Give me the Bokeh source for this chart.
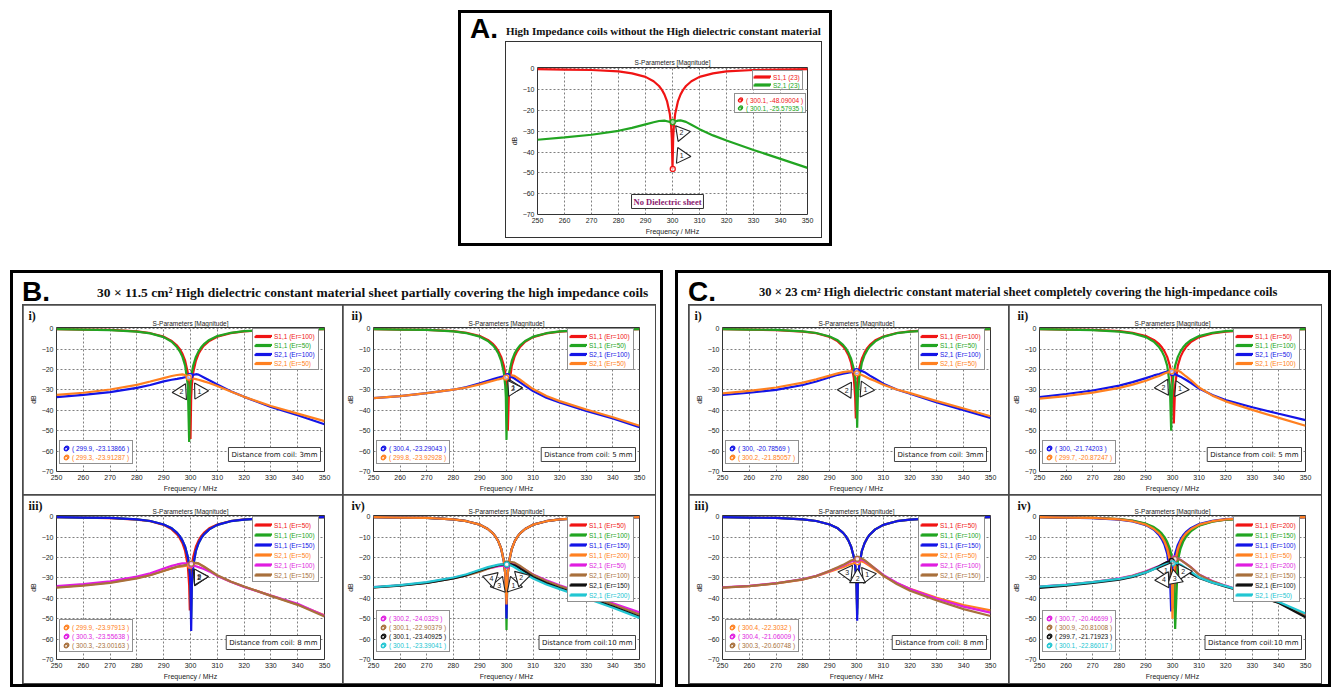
import math
from bokeh.plotting import figure
from bokeh.models import Range1d, FixedTicker, Legend, LegendItem, Label, Div, Spacer, Title
from bokeh.layouts import row, column
from bokeh.embed import file_html
from bokeh.resources import INLINE
from bokeh.core.properties import value

# ---------------- data ----------------
FREQ_S11 = [250, 260, 270, 280, 285, 290, 293, 295, 296, 297, 298, 299, 299.5, 299.75, 300,
            300.25, 300.5, 301, 302, 303, 304, 305, 307, 310, 315, 320, 330, 340, 350]
FREQ_S21 = [250, 260, 270, 280, 285, 290, 293, 295, 297, 298, 299, 300, 301, 302, 303,
            305, 307, 310, 315, 320, 330, 340, 350]
X_TICKS = [250, 260, 270, 280, 290, 300, 310, 320, 330, 340, 350]
Y_TICKS = [-70, -60, -50, -40, -30, -20, -10, 0]

# Panel A
A_S11_23 = [-0.2, -0.4, -0.6, -1.3, -2.2, -3.9, -6.0, -8.3, -10.0, -12.3, -15.7, -21.6, -27.6, -33.6, -48.1, -33.6, -27.6, -21.6, -15.7, -12.3, -10.0, -8.3, -6.0, -3.9, -2.2, -1.3, -0.6, -0.4, -0.2]
A_S21_23 = [-34.1, -33.0, -31.7, -29.8, -28.4, -26.7, -25.7, -25.1, -24.9, -25.2, -25.5, -25.6, -25.3, -24.9, -24.8, -25.5, -26.9, -29.0, -32.0, -34.5, -39.0, -43.3, -47.6]
A_MK_X = [300.1, 300.1]
A_MK_Y = [-48.09004, -25.57935]

# Panel B i (3 mm)
BI_S11_ER100 = [-0.2, -0.4, -0.6, -1.3, -2.2, -3.9, -6.0, -8.3, -10.0, -12.3, -15.7, -21.6, -27.6, -33.6, -54.0, -33.6, -27.6, -21.6, -15.7, -12.3, -10.0, -8.3, -6.0, -3.9, -2.2, -1.3, -0.6, -0.4, -0.2]
BI_S11_ER50 = [-0.2, -0.4, -0.7, -1.4, -2.3, -4.1, -6.4, -9.1, -11.1, -13.8, -18.1, -27.6, -55.5, -33.6, -27.6, -24.1, -21.6, -18.1, -13.8, -11.1, -9.1, -7.6, -5.5, -3.6, -2.0, -1.2, -0.6, -0.4, -0.2]
BI_S21_ER100 = [-33.5, -32.4, -31.1, -29.0, -27.6, -25.8, -25.0, -24.6, -24.1, -23.8, -23.5, -23.1, -22.6, -22.3, -22.5, -23.9, -25.3, -27.3, -30.6, -33.4, -38.4, -42.4, -46.8]
BI_S21_ER50 = [-32.4, -31.4, -29.8, -27.5, -25.9, -24.2, -23.2, -22.7, -22.4, -22.7, -23.7, -24.1, -24.4, -24.7, -25.0, -25.8, -26.6, -28.1, -30.8, -33.4, -37.9, -41.6, -45.3]
BI_MK_X = [299.9, 299.3]
BI_MK_Y = [-23.13866, -23.91287]

# Panel B ii (5 mm)
BII_S11_ER100 = [-0.2, -0.4, -0.6, -1.2, -2.0, -3.6, -5.5, -7.6, -9.1, -11.1, -13.8, -18.1, -21.6, -24.1, -27.6, -33.6, -50.0, -27.6, -18.1, -13.8, -11.1, -9.1, -6.4, -4.1, -2.3, -1.4, -0.7, -0.4, -0.2]
BII_S11_ER50 = [-0.2, -0.4, -0.6, -1.3, -2.2, -3.9, -6.0, -8.3, -10.0, -12.3, -15.7, -21.6, -27.6, -33.6, -54.5, -33.6, -27.6, -21.6, -15.7, -12.3, -10.0, -8.3, -6.0, -3.9, -2.2, -1.3, -0.6, -0.4, -0.2]
BII_S21_ER100 = [-34.0, -33.0, -31.6, -29.9, -28.6, -26.8, -25.5, -24.7, -23.9, -23.6, -23.4, -23.3, -23.3, -23.7, -24.4, -26.2, -28.0, -30.6, -33.8, -36.2, -40.3, -44.0, -48.3]
BII_S21_ER50 = [-34.0, -33.0, -31.6, -29.9, -28.8, -27.3, -26.2, -25.5, -24.8, -24.5, -24.1, -23.7, -23.1, -22.8, -23.1, -24.9, -26.8, -29.6, -33.0, -35.5, -39.6, -43.4, -47.6]
BII_MK_X = [300.4, 299.8]
BII_MK_Y = [-23.29043, -23.92928]

# Panel B iii (8 mm)
BIII_S11_ER50 = [-0.2, -0.4, -0.7, -1.4, -2.2, -4.0, -6.2, -8.7, -10.5, -13.0, -16.8, -24.1, -33.6, -46.0, -33.6, -27.6, -24.1, -19.7, -14.7, -11.7, -9.5, -7.9, -5.7, -3.8, -2.1, -1.3, -0.6, -0.4, -0.2]
BIII_S11_ER100 = [-0.2, -0.4, -0.6, -1.3, -2.1, -3.8, -5.7, -7.9, -9.5, -11.7, -14.7, -19.7, -24.1, -27.6, -33.6, -50.0, -33.6, -24.1, -16.8, -13.0, -10.5, -8.7, -6.2, -4.0, -2.2, -1.4, -0.7, -0.4, -0.2]
BIII_S11_ER150 = [-0.2, -0.4, -0.6, -1.3, -2.1, -3.8, -5.7, -7.9, -9.5, -11.7, -14.7, -19.7, -24.1, -27.6, -33.6, -56.0, -33.6, -24.1, -16.8, -13.0, -10.5, -8.7, -6.2, -4.0, -2.2, -1.4, -0.7, -0.4, -0.2]
BIII_S21_ER50 = [-34.5, -33.5, -32.2, -30.0, -28.5, -26.5, -25.3, -24.6, -24.3, -24.1, -24.0, -23.9, -23.2, -22.8, -23.0, -24.6, -26.3, -28.9, -31.9, -34.3, -38.7, -43.0, -48.3]
BIII_S21_ER100 = [-34.0, -33.0, -31.7, -29.3, -27.7, -25.4, -24.1, -23.4, -22.9, -22.8, -23.0, -23.4, -23.9, -24.3, -24.7, -25.6, -26.8, -29.0, -31.9, -34.4, -38.7, -42.7, -48.5]
BIII_S21_ER150 = [-34.8, -33.8, -32.4, -30.2, -28.7, -26.6, -25.3, -24.5, -24.0, -23.7, -23.4, -23.1, -22.7, -22.6, -22.9, -24.4, -26.1, -28.7, -31.8, -34.2, -38.8, -43.2, -48.9]
BIII_MK_X = [299.9, 300.3, 300.3]
BIII_MK_Y = [-23.97913, -23.55638, -23.00163]

# Panel B iv (10 mm)
BIV_S11_ER50 = [-0.2, -0.4, -0.6, -1.3, -2.2, -3.9, -6.0, -8.3, -10.0, -12.3, -15.7, -21.6, -27.6, -33.6, -35.0, -33.6, -27.6, -21.6, -15.7, -12.3, -10.0, -8.3, -6.0, -3.9, -2.2, -1.3, -0.6, -0.4, -0.2]
BIV_S11_ER100 = [-0.2, -0.4, -0.6, -1.3, -2.2, -3.9, -6.0, -8.3, -10.0, -12.3, -15.7, -21.6, -27.6, -33.6, -55.5, -33.6, -27.6, -21.6, -15.7, -12.3, -10.0, -8.3, -6.0, -3.9, -2.2, -1.3, -0.6, -0.4, -0.2]
BIV_S11_ER150 = [-0.2, -0.4, -0.6, -1.3, -2.2, -3.9, -6.0, -8.3, -10.0, -12.3, -15.7, -21.6, -27.6, -33.6, -50.0, -33.6, -27.6, -21.6, -15.7, -12.3, -10.0, -8.3, -6.0, -3.9, -2.2, -1.3, -0.6, -0.4, -0.2]
BIV_S11_ER200 = [-0.2, -0.4, -0.6, -1.3, -2.2, -3.9, -6.0, -8.3, -10.0, -12.3, -15.7, -21.6, -27.6, -33.6, -43.0, -33.6, -27.6, -21.6, -15.7, -12.3, -10.0, -8.3, -6.0, -3.9, -2.2, -1.3, -0.6, -0.4, -0.2]
BIV_S21_ER50 = [-34.5, -33.6, -32.3, -30.0, -28.6, -26.6, -25.4, -24.8, -24.3, -24.1, -24.0, -24.0, -23.6, -23.2, -23.3, -24.6, -26.0, -28.3, -31.2, -33.6, -38.0, -42.4, -46.9]
BIV_S21_ER100 = [-34.6, -33.7, -32.4, -30.2, -28.8, -26.9, -25.5, -24.6, -23.8, -23.5, -23.2, -22.9, -22.4, -22.2, -22.5, -24.0, -25.8, -28.5, -31.6, -34.0, -38.5, -43.0, -48.0]
BIV_S21_ER150 = [-34.7, -33.8, -32.5, -30.2, -28.6, -26.4, -25.1, -24.4, -23.8, -23.6, -23.5, -23.4, -23.3, -23.4, -23.8, -25.3, -27.0, -29.5, -32.5, -35.0, -39.5, -44.0, -49.0]
BIV_S21_ER200 = [-34.5, -33.5, -32.1, -29.8, -28.2, -26.0, -24.7, -24.1, -23.5, -23.4, -23.4, -23.4, -23.6, -24.1, -24.8, -26.4, -28.0, -30.3, -33.2, -35.5, -40.0, -44.6, -49.6]
BIV_MK_X = [300.2, 300.1, 300.1, 300.1]
BIV_MK_Y = [-24.0329, -22.90379, -23.40925, -23.39041]

# Panel C i (3 mm)
CI_S11_ER100 = [-0.2, -0.4, -0.7, -1.4, -2.2, -4.0, -6.2, -8.7, -10.5, -13.0, -16.8, -24.1, -33.6, -44.0, -33.6, -27.6, -24.1, -19.7, -14.7, -11.7, -9.5, -7.9, -5.7, -3.8, -2.1, -1.3, -0.6, -0.4, -0.2]
CI_S11_ER50 = [-0.2, -0.4, -0.6, -1.3, -2.1, -3.8, -5.7, -7.9, -9.5, -11.7, -14.7, -19.7, -24.1, -27.6, -33.6, -48.5, -33.6, -24.1, -16.8, -13.0, -10.5, -8.7, -6.2, -4.0, -2.2, -1.4, -0.7, -0.4, -0.2]
CI_S21_ER100 = [-32.5, -31.4, -30.0, -27.6, -25.9, -23.8, -22.6, -22.0, -21.5, -21.3, -21.0, -20.8, -20.5, -20.7, -21.3, -23.0, -24.5, -27.0, -29.8, -31.9, -36.1, -39.9, -43.8]
CI_S21_ER50 = [-31.7, -30.5, -28.8, -26.4, -24.8, -23.0, -21.9, -21.3, -20.9, -20.9, -21.2, -21.8, -22.2, -22.7, -23.3, -24.6, -25.6, -27.5, -29.8, -31.6, -35.5, -39.1, -42.9]
CI_MK_X = [300, 300.2]
CI_MK_Y = [-20.78569, -21.85057]

# Panel C ii (5 mm)
CII_S11_ER50 = [-0.2, -0.4, -0.6, -1.2, -2.0, -3.6, -5.5, -7.6, -9.1, -11.1, -13.8, -18.1, -21.6, -24.1, -27.6, -33.6, -46.5, -27.6, -18.1, -13.8, -11.1, -9.1, -6.4, -4.1, -2.3, -1.4, -0.7, -0.4, -0.2]
CII_S11_ER100 = [-0.2, -0.4, -0.7, -1.4, -2.3, -4.1, -6.4, -9.1, -11.1, -13.8, -18.1, -27.6, -50.0, -33.6, -27.6, -24.1, -21.6, -18.1, -13.8, -11.1, -9.1, -7.6, -5.5, -3.6, -2.0, -1.2, -0.6, -0.4, -0.2]
CII_S21_ER50 = [-33.5, -32.0, -30.3, -27.9, -26.2, -24.2, -22.9, -22.2, -21.4, -21.0, -21.2, -21.7, -22.3, -22.9, -23.5, -25.0, -26.6, -29.3, -32.5, -35.0, -38.5, -41.7, -44.8]
CII_S21_ER100 = [-34.3, -33.0, -31.3, -29.0, -27.4, -25.5, -24.0, -23.2, -22.0, -21.5, -21.1, -20.7, -20.4, -20.5, -21.2, -23.3, -25.3, -28.8, -32.8, -35.6, -39.8, -43.7, -47.6]
CII_MK_X = [300, 299.7]
CII_MK_Y = [-21.74203, -20.87247]

# Panel C iii (8 mm)
CIII_S11_ER50 = [-0.2, -0.4, -0.6, -1.3, -2.1, -3.8, -5.7, -7.9, -9.5, -11.7, -14.7, -19.7, -24.1, -27.6, -33.6, -45.0, -33.6, -24.1, -16.8, -13.0, -10.5, -8.7, -6.2, -4.0, -2.2, -1.4, -0.7, -0.4, -0.2]
CIII_S11_ER100 = [-0.2, -0.4, -0.6, -1.3, -2.1, -3.8, -5.7, -7.9, -9.5, -11.7, -14.7, -19.7, -24.1, -27.6, -33.6, -48.0, -33.6, -24.1, -16.8, -13.0, -10.5, -8.7, -6.2, -4.0, -2.2, -1.4, -0.7, -0.4, -0.2]
CIII_S11_ER150 = [-0.2, -0.4, -0.6, -1.3, -2.1, -3.8, -5.7, -7.9, -9.5, -11.7, -14.7, -19.7, -24.1, -27.6, -33.6, -51.0, -33.6, -24.1, -16.8, -13.0, -10.5, -8.7, -6.2, -4.0, -2.2, -1.4, -0.7, -0.4, -0.2]
CIII_S21_ER50 = [-34.7, -34.0, -32.7, -30.8, -29.2, -27.0, -25.6, -24.8, -23.7, -23.2, -22.8, -22.4, -21.8, -21.9, -22.5, -24.2, -26.0, -28.9, -32.6, -35.3, -39.8, -43.3, -45.9]
CIII_S21_ER100 = [-34.6, -33.9, -32.6, -30.6, -29.0, -26.6, -25.0, -23.9, -22.6, -22.0, -21.5, -21.2, -20.9, -21.0, -21.7, -23.5, -25.4, -28.5, -32.4, -35.4, -40.2, -44.1, -47.0]
CIII_S21_ER150 = [-34.8, -34.0, -32.7, -30.7, -29.1, -26.5, -24.8, -23.6, -22.2, -21.5, -21.0, -20.7, -20.3, -20.5, -21.3, -23.4, -25.5, -28.9, -33.0, -36.3, -41.1, -45.3, -48.7]
CIII_MK_X = [300.4, 300.4, 300.3]
CIII_MK_Y = [-22.3032, -21.06009, -20.60748]

# Panel C iv (10 mm)
CIV_S11_ER200 = [-0.2, -0.4, -0.6, -1.2, -2.0, -3.6, -5.5, -7.6, -9.1, -11.1, -13.8, -18.1, -21.6, -24.1, -27.6, -33.6, -45.0, -27.6, -18.1, -13.8, -11.1, -9.1, -6.4, -4.1, -2.3, -1.4, -0.7, -0.4, -0.2]
CIV_S11_ER150 = [-0.2, -0.4, -0.6, -1.2, -1.9, -3.4, -5.1, -7.0, -8.3, -10.0, -12.3, -15.7, -18.1, -19.7, -21.6, -24.1, -27.6, -55.0, -21.6, -15.7, -12.3, -10.0, -7.0, -4.4, -2.4, -1.5, -0.7, -0.4, -0.2]
CIV_S11_ER100 = [-0.2, -0.4, -0.7, -1.4, -2.3, -4.1, -6.4, -9.1, -11.1, -13.8, -18.1, -27.6, -46.5, -33.6, -27.6, -24.1, -21.6, -18.1, -13.8, -11.1, -9.1, -7.6, -5.5, -3.6, -2.0, -1.2, -0.6, -0.4, -0.2]
CIV_S11_ER50 = [-0.2, -0.4, -0.6, -1.3, -2.2, -3.9, -6.0, -8.3, -10.0, -12.3, -15.7, -21.6, -27.6, -33.6, -50.0, -33.6, -27.6, -21.6, -15.7, -12.3, -10.0, -8.3, -6.0, -3.9, -2.2, -1.3, -0.6, -0.4, -0.2]
CIV_S21_ER200 = [-34.3, -33.3, -32.0, -30.2, -28.8, -26.8, -25.2, -24.2, -22.9, -22.2, -21.5, -20.9, -20.4, -20.5, -21.1, -22.9, -24.8, -28.3, -31.5, -33.8, -38.0, -42.0, -48.0]
CIV_S21_ER150 = [-34.4, -33.4, -32.1, -30.4, -29.0, -27.0, -25.4, -24.4, -23.1, -22.4, -21.8, -21.2, -20.7, -20.7, -21.2, -23.0, -24.9, -28.4, -31.7, -34.0, -38.2, -42.2, -48.3]
CIV_S21_ER100 = [-34.9, -33.8, -32.5, -30.9, -29.5, -27.4, -25.6, -24.3, -22.8, -22.2, -21.8, -21.7, -22.5, -23.6, -24.9, -26.5, -28.0, -30.0, -32.4, -34.3, -38.0, -42.3, -49.3]
CIV_S21_ER50 = [-34.3, -33.4, -32.1, -30.5, -29.2, -27.3, -25.7, -24.7, -23.6, -23.1, -22.9, -22.85, -22.7, -22.9, -23.4, -25.2, -27.0, -29.8, -32.3, -34.0, -37.8, -41.8, -47.4]
CIV_MK_X = [300.7, 300.9, 299.7, 300.1]
CIV_MK_Y = [-20.46699, -20.81008, -21.71923, -22.86017]

# ---------------- style ----------------
RED, GREEN, BLUE, ORANGE = "#f01414", "#22a522", "#1414e6", "#ff8020"
MAGENTA, BROWN, BLACK, CYAN = "#e01ee0", "#a8703c", "#111111", "#22c6d2"
FONT = "Liberation Sans"
SERIF = "Liberation Serif"
SUBTITLE = "S-Parameters [Magnitude]"


def stacked_legend(p, rends, labels, colors, x0, y_top, H, pad, gw, so, fs):
    n = len(rends)
    box_h = 2 * pad + n * H
    common = dict(orientation="vertical", padding=pad, spacing=0, margin=0,
                  label_height=H, glyph_height=H, glyph_width=gw, label_standoff=so,
                  label_text_font=FONT, label_text_font_size=fs, label_width=10)
    box = Legend(items=[LegendItem(label=l, renderers=[r]) for l, r in zip(labels, rends)],
                 location=(x0, y_top - box_h), label_text_alpha=0.0,
                 border_line_color="#222222", border_line_width=1,
                 background_fill_color="white", background_fill_alpha=1.0, **common)
    p.add_layout(box)
    for k, (l, r, c) in enumerate(zip(labels, rends, colors)):
        lg = Legend(items=[LegendItem(label=l, renderers=[r])],
                    location=(x0, y_top - k * H - (2 * pad + H)), label_text_color=c,
                    border_line_alpha=0.0, background_fill_alpha=0.0, **common)
        p.add_layout(lg)


def chart(fw, fh, bl, br, bt, bb, s11, s21, mk_x, mk_y, mk_c, co_dx, co_dy,
          dist=None, tag=None, tag_standoff=-10, leg_x=None, leg_top=3, leg_H=10, leg_pad=2,
          mk_x0=3, mk_bottom=7, mk_top=None, mk_H=9, mk_pad=2):
    p = figure(frame_width=fw, frame_height=fh, x_range=Range1d(250, 350),
               y_range=Range1d(-70, 0.6), output_backend="svg", toolbar_location=None,
               min_border_left=bl, min_border_right=br, min_border_top=bt, min_border_bottom=bb,
               background_fill_color="white", border_fill_color="white")
    sub_style = dict(text_font=FONT, text_font_size="6.5px", text_font_style="normal",
                     text_color="#222222")
    if tag is None:
        p.title.text = SUBTITLE
        p.title.align = "center"
        p.title.standoff = 3
        for k, v in sub_style.items():
            setattr(p.title, k, v)
    else:
        # sub-panel tag sits outermost, the subtitle right above the frame
        p.add_layout(Title(text=SUBTITLE, align="center", standoff=1, **sub_style), "above")
        p.title.text = tag
        p.title.align = "left"
        p.title.offset = -(bl - 5)
        p.title.standoff = tag_standoff
        p.title.text_font = SERIF
        p.title.text_font_style = "bold"
        p.title.text_font_size = "12px"
        p.title.text_color = "#111111"
    for ax in (p.xaxis[0], p.yaxis[0]):
        ax.axis_line_color = None
        ax.major_tick_line_color = None
        ax.minor_tick_line_color = None
        ax.major_tick_out = 0
        ax.major_tick_in = 0
        ax.minor_tick_out = 0
        ax.minor_tick_in = 0
        ax.major_label_text_font = FONT
        ax.major_label_text_font_size = "7px"
        ax.major_label_text_color = "#222222"
        ax.axis_label_text_font = FONT
        ax.axis_label_text_font_size = "7px"
        ax.axis_label_text_font_style = "normal"
        ax.axis_label_text_color = "#222222"
        ax.major_label_standoff = 3
        ax.axis_label_standoff = 2
    p.xaxis.ticker = FixedTicker(ticks=X_TICKS)
    p.yaxis.ticker = FixedTicker(ticks=Y_TICKS)
    p.xaxis.axis_label = "Frequency / MHz"
    p.yaxis.axis_label = "dB"
    p.grid.grid_line_color = "#808080"
    p.grid.grid_line_dash = "2 2"
    p.outline_line_color = "#333333"

    rends, labels, colors = [], [], []
    for lab, vals, col in s11:
        rends.append(p.line(FREQ_S11, vals, line_color=col, line_width=2.2))
        labels.append(lab)
        colors.append(col)
    for lab, vals, col in s21:
        rends.append(p.line(FREQ_S21, vals, line_color=col, line_width=2.2))
        labels.append(lab)
        colors.append(col)

    # marker points
    mk_rends = []
    for x, y, c in zip(mk_x, mk_y, mk_c):
        mk_rends.append(p.scatter([x], [y], marker="circle", size=5, fill_color="white",
                                  fill_alpha=0.6, line_color=c, line_width=1.3))
    # callout triangles
    tx = [x + dx for x, dx in zip(mk_x, co_dx)]
    ty = [y + dy for y, dy in zip(mk_y, co_dy)]
    ang = [math.atan2(-dy * 2.04, -dx * 2.68) - math.pi / 2 for dx, dy in zip(co_dx, co_dy)]
    nums = [str(i + 1) for i in range(len(mk_x))]
    p.scatter(tx, ty, marker="triangle", size=16, angle=ang, fill_color="white",
              line_color="#222222", line_width=1.1)
    p.text(tx, ty, text=nums, text_font=value(FONT), text_font_size="7px",
           text_align="center", text_baseline="middle", text_color="#222222")

    # legends
    lx = fw - 6 - 66 if leg_x is None else leg_x
    stacked_legend(p, rends, labels, colors, lx, fh - leg_top, leg_H, leg_pad, 17, 3, "6.5px")
    mk_labels = ["( %s, %s )" % (x, y) for x, y in zip(mk_x, mk_y)]
    n = len(mk_x)
    top = (mk_bottom + 2 * mk_pad + n * mk_H) if mk_top is None else mk_top
    stacked_legend(p, mk_rends, mk_labels, mk_c, mk_x0, top, mk_H, mk_pad, 9, 2, "6.5px")

    if dist is not None:
        p.add_layout(Label(x=fw - 4, y=10, x_units="screen", y_units="screen", text=dist,
                           text_align="right", text_baseline="bottom", text_font="DejaVu Sans",
                           text_font_size="7px", text_color="#111111", padding=3,
                           background_fill_color="white", border_line_color="#444444",
                           border_line_width=1))
    return p


# sub-panel geometry (top row / bottom row)
GEO_L = dict(fw=268, fh=144, bl=33, br=18, bt=22, bb=22)
GEO_R = dict(fw=266, fh=144, bl=27, br=16, bt=22, bb=22)
GEO_L2 = dict(fw=268, fh=144, bl=33, br=18, bt=20, bb=24)
GEO_R2 = dict(fw=266, fh=144, bl=27, br=16, bt=20, bb=24)


def ER(s):
    return "(Er=%s)" % s


# ---- Panel A ----
pa = chart(fw=270, fh=147, bl=31, br=14, bt=25, bb=22,
           s11=[("S1,1 (23)", A_S11_23, RED)], s21=[("S2,1 (23)", A_S21_23, GREEN)],
           mk_x=A_MK_X, mk_y=A_MK_Y, mk_c=[RED, GREEN], co_dx=[3.3, 3.2], co_dy=[6.3, -5.2],
           leg_x=215, leg_top=5, leg_H=8, leg_pad=1,
           mk_x0=197, mk_top=147 - 28, mk_H=8, mk_pad=1)
pa.add_layout(Label(x=130, y=13, x_units="screen", y_units="screen", text="No Dielectric sheet",
                    text_align="center", text_baseline="middle", text_font=SERIF,
                    text_font_style="bold", text_font_size="8.5px", text_color="#8b1a6f",
                    padding=2, background_fill_color="white", border_line_color="#333333",
                    border_line_width=1))

# ---- Panel B ----
b1 = chart(**GEO_L,
           s11=[("S1,1 " + ER(100), BI_S11_ER100, RED), ("S1,1 " + ER(50), BI_S11_ER50, GREEN)],
           s21=[("S2,1 " + ER(100), BI_S21_ER100, BLUE), ("S2,1 " + ER(50), BI_S21_ER50, ORANGE)],
           mk_x=BI_MK_X, mk_y=BI_MK_Y, mk_c=[BLUE, ORANGE], co_dx=[3.4, -2.7], co_dy=[-7.4, -7.1],
           dist="Distance from coil: 3mm", tag="i)", leg_H=9)
b2 = chart(**GEO_R,
           s11=[("S1,1 " + ER(100), BII_S11_ER100, RED), ("S1,1 " + ER(50), BII_S11_ER50, GREEN)],
           s21=[("S2,1 " + ER(100), BII_S21_ER100, BLUE), ("S2,1 " + ER(50), BII_S21_ER50, ORANGE)],
           mk_x=BII_MK_X, mk_y=BII_MK_Y, mk_c=[BLUE, ORANGE], co_dx=[2.2, 2.6], co_dy=[-5.6, -5.2],
           dist="Distance from coil: 5 mm", tag="ii)", leg_H=9)
b3 = chart(**GEO_L2,
           s11=[("S1,1 " + ER(50), BIII_S11_ER50, RED), ("S1,1 " + ER(100), BIII_S11_ER100, GREEN),
                ("S1,1 " + ER(150), BIII_S11_ER150, BLUE)],
           s21=[("S2,1 " + ER(50), BIII_S21_ER50, ORANGE), ("S2,1 " + ER(100), BIII_S21_ER100, MAGENTA),
                ("S2,1 " + ER(150), BIII_S21_ER150, BROWN)],
           mk_x=BIII_MK_X, mk_y=BIII_MK_Y, mk_c=[ORANGE, MAGENTA, BROWN],
           co_dx=[3.1, 3.0, 2.9], co_dy=[-5.8, -6.0, -6.5],
           dist="Distance from coil: 8 mm", tag="iii)", tag_standoff=-14)
b4 = chart(**GEO_R2,
           s11=[("S1,1 " + ER(50), BIV_S11_ER50, RED), ("S1,1 " + ER(100), BIV_S11_ER100, GREEN),
                ("S1,1 " + ER(150), BIV_S11_ER150, BLUE), ("S1,1 " + ER(200), BIV_S11_ER200, ORANGE)],
           s21=[("S2,1 " + ER(50), BIV_S21_ER50, MAGENTA), ("S2,1 " + ER(100), BIV_S21_ER100, BROWN),
                ("S2,1 " + ER(150), BIV_S21_ER150, BLACK), ("S2,1 " + ER(200), BIV_S21_ER200, CYAN)],
           mk_x=BIV_MK_X, mk_y=BIV_MK_Y, mk_c=[MAGENTA, BROWN, BLACK, CYAN],
           co_dx=[2.4, 5.4, -2.8, -5.8], co_dy=[-9.5, -7.1, -10.1, -7.1],
           dist="Distance from coil:10 mm", tag="iv)", tag_standoff=-14)

# ---- Panel C ----
c1 = chart(**GEO_L,
           s11=[("S1,1 " + ER(100), CI_S11_ER100, RED), ("S1,1 " + ER(50), CI_S11_ER50, GREEN)],
           s21=[("S2,1 " + ER(100), CI_S21_ER100, BLUE), ("S2,1 " + ER(50), CI_S21_ER50, ORANGE)],
           mk_x=CI_MK_X, mk_y=CI_MK_Y, mk_c=[BLUE, ORANGE], co_dx=[3.3, -3.9], co_dy=[-9.0, -8.2],
           dist="Distance from coil: 3mm", tag="i)", leg_H=9)
c2 = chart(**GEO_R,
           s11=[("S1,1 " + ER(50), CII_S11_ER50, RED), ("S1,1 " + ER(100), CII_S11_ER100, GREEN)],
           s21=[("S2,1 " + ER(50), CII_S21_ER50, BLUE), ("S2,1 " + ER(100), CII_S21_ER100, ORANGE)],
           mk_x=CII_MK_X, mk_y=CII_MK_Y, mk_c=[BLUE, ORANGE], co_dx=[2.8, -3.1], co_dy=[-7.8, -7.9],
           dist="Distance from coil: 5 mm", tag="ii)", leg_H=9)
c3 = chart(**GEO_L2,
           s11=[("S1,1 " + ER(50), CIII_S11_ER50, RED), ("S1,1 " + ER(100), CIII_S11_ER100, GREEN),
                ("S1,1 " + ER(150), CIII_S11_ER150, BLUE)],
           s21=[("S2,1 " + ER(50), CIII_S21_ER50, ORANGE), ("S2,1 " + ER(100), CIII_S21_ER100, MAGENTA),
                ("S2,1 " + ER(150), CIII_S21_ER150, BROWN)],
           mk_x=CIII_MK_X, mk_y=CIII_MK_Y, mk_c=[ORANGE, MAGENTA, BROWN],
           co_dx=[3.6, 0.0, -3.8], co_dy=[-6.2, -9.0, -6.9],
           dist="Distance from coil: 8 mm", tag="iii)", tag_standoff=-14)
c4 = chart(**GEO_R2,
           s11=[("S1,1 " + ER(200), CIV_S11_ER200, RED), ("S1,1 " + ER(150), CIV_S11_ER150, GREEN),
                ("S1,1 " + ER(100), CIV_S11_ER100, BLUE), ("S1,1 " + ER(50), CIV_S11_ER50, ORANGE)],
           s21=[("S2,1 " + ER(200), CIV_S21_ER200, MAGENTA), ("S2,1 " + ER(150), CIV_S21_ER150, BROWN),
                ("S2,1 " + ER(100), CIV_S21_ER100, BLACK), ("S2,1 " + ER(50), CIV_S21_ER50, CYAN)],
           mk_x=CIV_MK_X, mk_y=CIV_MK_Y, mk_c=[MAGENTA, BROWN, BLACK, CYAN],
           co_dx=[-3.2, 3.1, 1.1, -3.3], co_dy=[-5.7, -6.2, -8.6, -8.1],
           dist="Distance from coil:10 mm", tag="iv)", tag_standoff=-14)


def title_div(letter, text, width, height, lead, gap, fs, pb):
    html = ('<div style="display:flex;align-items:flex-end;height:%dpx;white-space:nowrap;">'
            '<span style="font-family:\'Liberation Sans\';font-weight:bold;font-size:28px;'
            'line-height:24px;margin-left:%dpx;">%s</span>'
            '<span style="font-family:\'Liberation Serif\';font-weight:bold;font-size:%spx;'
            'margin-left:%dpx;padding-bottom:%dpx;color:#111;">%s</span></div>'
            % (height, lead, letter, fs, gap, pb, text))
    return Div(text=html, width=width, height=height, margin=0)


def grid4(f1, f2, f3, f4):
    return column(row(f1, f2, spacing=1), row(f3, f4, spacing=1), spacing=1,
                  styles={"background-color": "#4a4a4a", "padding": "1px"})


BOX = {"border": "3px solid #000", "background-color": "white"}

panel_a = column(
    title_div("A.", "High Impedance coils without the High dielectric constant material",
              368, 28, 9, 8, 11, 1),
    row(Spacer(width=44, height=10), column(pa, styles={"border": "1px solid #333"})),
    Spacer(width=10, height=5),
    styles=BOX)

panel_b = column(
    title_div("B.", "30 × 11.5 cm² High dielectric constant material sheet partially covering the high impedance coils",
              647, 31, 9, 47, 13.5, 2),
    row(Spacer(width=9, height=10), grid4(b1, b2, b3, b4)),
    styles=BOX)

panel_c = column(
    title_div("C.", "30 × 23 cm² High dielectric constant material sheet completely covering the high-impedance coils",
              650, 31, 10, 43, 12.6, 2),
    row(Spacer(width=10, height=10), grid4(c1, c2, c3, c4)),
    styles=BOX)

page = column(
    Spacer(width=10, height=10),
    row(Spacer(width=458, height=10), panel_a),
    Spacer(width=10, height=24),
    row(Spacer(width=10, height=10), panel_b, Spacer(width=12, height=10), panel_c),
)

open("out.html", "w").write(file_html(page, INLINE))
